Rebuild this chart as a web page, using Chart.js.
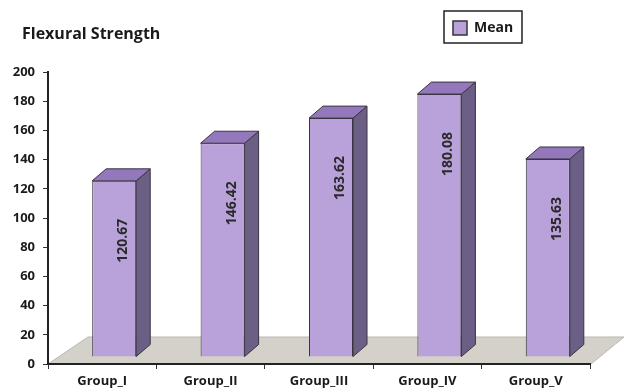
<!DOCTYPE html>
<html>
<head>
<meta charset="utf-8">
<script src="https://cdn.jsdelivr.net/npm/chart.js@4/dist/chart.umd.min.js"></script>
<style>
  html, body { margin: 0; padding: 0; background: #ffffff; }
  #wrap { width: 625px; height: 391px; position: relative; }
</style>
</head>
<body>
<div id="wrap"><canvas id="c" width="625" height="391"></canvas></div>
<script>
// Flexural strength means per group
const categories = ['Group_I', 'Group_II', 'Group_III', 'Group_IV', 'Group_V'];
const meanValues = [120.67, 146.42, 163.62, 180.08, 135.63];
const yTicks = [0, 20, 40, 60, 80, 100, 120, 140, 160, 180, 200];
const seriesName = 'Mean';
const chartTitle = 'Flexural Strength';

const FONT = '"Open Sans", "DejaVu Sans", sans-serif';
const FRONT = '#b9a2da';
const SIDE = '#6c5f85';
const TOP = '#9378bb';
const EDGE = '#3a3540';
const DEPTH_X = 14, DEPTH_Y = 12;     // pseudo-3D depth of each column
const SHIFT_X = 12, SHIFT_Y = -7;     // columns stand back on the floor

// Floor plane under the columns, drawn before the axes
const floorPlugin = {
  id: 'floor',
  beforeDraw(chart) {
    const { ctx, chartArea: a } = chart;
    ctx.save();
    ctx.beginPath();
    ctx.moveTo(a.left, a.bottom);
    ctx.lineTo(a.right + 1, a.bottom);
    ctx.lineTo(a.right + 34, a.bottom - 27);
    ctx.lineTo(a.left + 40, a.bottom - 27);
    ctx.closePath();
    ctx.fillStyle = '#d3d1ca';
    ctx.fill();
    ctx.strokeStyle = '#b9b7b0';
    ctx.lineWidth = 1;
    ctx.stroke();
    ctx.restore();
  }
};

// Shift the columns, add side/top faces and the rotated value labels
const columnPlugin = {
  id: 'column3d',
  beforeDatasetsDraw(chart) {
    chart.ctx.save();
    chart.ctx.translate(SHIFT_X, SHIFT_Y);
  },
  afterDatasetsDraw(chart) {
    const ctx = chart.ctx;
    const meta = chart.getDatasetMeta(0);
    const data = chart.data.datasets[0].data;
    meta.data.forEach((bar, i) => {
      const { x, y, base, width } = bar.getProps(['x', 'y', 'base', 'width'], true);
      const xl = x - width / 2, xr = x + width / 2;
      ctx.lineWidth = 1;
      ctx.strokeStyle = EDGE;
      // side face
      ctx.beginPath();
      ctx.moveTo(xr, y);
      ctx.lineTo(xr + DEPTH_X, y - DEPTH_Y);
      ctx.lineTo(xr + DEPTH_X, base - DEPTH_Y);
      ctx.lineTo(xr, base);
      ctx.closePath();
      ctx.fillStyle = SIDE;
      ctx.fill();
      ctx.stroke();
      // top face
      ctx.beginPath();
      ctx.moveTo(xl, y);
      ctx.lineTo(xl + DEPTH_X, y - DEPTH_Y);
      ctx.lineTo(xr + DEPTH_X, y - DEPTH_Y);
      ctx.lineTo(xr, y);
      ctx.closePath();
      ctx.fillStyle = TOP;
      ctx.fill();
      ctx.stroke();
      // value label
      ctx.save();
      ctx.translate(x + 9, y + 60);
      ctx.rotate(-Math.PI / 2);
      ctx.font = 'bold 14px ' + FONT;
      ctx.fillStyle = '#2a2a2a';
      ctx.textAlign = 'center';
      ctx.textBaseline = 'middle';
      ctx.fillText(data[i].toFixed(2), 0, 0);
      ctx.restore();
    });
    ctx.restore();
  },
  afterDraw(chart) {
    const ctx = chart.ctx;
    ctx.save();
    // title
    ctx.font = 'bold 16px ' + FONT;
    ctx.fillStyle = '#1a1a1a';
    ctx.textAlign = 'left';
    ctx.textBaseline = 'alphabetic';
    ctx.fillText(chartTitle, 22, 39);
    // legend box
    ctx.strokeStyle = '#222';
    ctx.lineWidth = 1.5;
    ctx.strokeRect(444, 11, 78, 32);
    ctx.fillStyle = FRONT;
    ctx.fillRect(453, 21, 14, 14);
    ctx.strokeStyle = '#333';
    ctx.lineWidth = 1.5;
    ctx.strokeRect(453, 21, 14, 14);
    ctx.font = 'bold 14px ' + FONT;
    ctx.fillStyle = '#1a1a1a';
    ctx.textBaseline = 'middle';
    ctx.fillText(seriesName, 474, 28);
    ctx.restore();
  }
};

new Chart(document.getElementById('c'), {
  type: 'bar',
  data: {
    labels: categories,
    datasets: [{
      label: seriesName,
      data: meanValues,
      backgroundColor: FRONT,
      borderColor: EDGE,
      borderWidth: 1,
      barPercentage: 0.406,
      categoryPercentage: 1
    }]
  },
  options: {
    responsive: false,
    animation: false,
    layout: { padding: { top: 72, right: 35, left: 0, bottom: 0 } },
    plugins: {
      legend: { display: false },
      title: { display: false },
      tooltip: { enabled: false }
    },
    scales: {
      x: {
        afterFit(s) { s.height = 27; },
        grid: { drawOnChartArea: false, drawTicks: true, tickLength: 5, color: '#333', offset: true },
        border: { display: true, color: '#222', width: 2 },
        ticks: { font: { family: FONT, weight: 'bold', size: 13 }, color: '#1a1a1a', padding: 4 }
      },
      y: {
        min: 0, max: 200,
        afterFit(s) { s.width = 48; },
        afterBuildTicks(s) { s.ticks = yTicks.map(v => ({ value: v })); },
        grid: { drawOnChartArea: false, drawTicks: true, tickLength: 5, color: '#333' },
        border: { display: true, color: '#222', width: 2 },
        ticks: { font: { family: FONT, weight: 'bold', size: 13 }, color: '#1a1a1a', padding: 8 }
      }
    }
  },
  plugins: [floorPlugin, columnPlugin]
});
</script>
</body>
</html>
